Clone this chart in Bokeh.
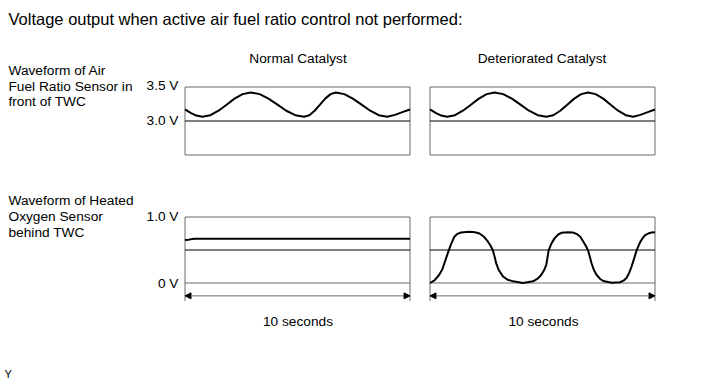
from bokeh.plotting import figure
from bokeh.models import Range1d, Arrow, NormalHead
from bokeh.core.properties import value
from bokeh.embed import file_html
from bokeh.resources import INLINE

# ---------------- data ----------------
title_text = "Voltage output when active air fuel ratio control not performed:"
column_titles = ["Normal Catalyst", "Deteriorated Catalyst"]
row_labels_af = ["Waveform of Air", "Fuel Ratio Sensor in", "front of TWC"]
row_labels_o2 = ["Waveform of Heated", "Oxygen Sensor", "behind TWC"]
af_tick_labels = ["3.5 V", "3.0 V"]
af_tick_values = [3.5, 3.0]
o2_tick_labels = ["1.0 V", "0 V"]
o2_tick_values = [1.0, 0.0]
time_label = "10 seconds"
time_span = [0, 10]          # seconds
af_span = [2.5, 3.5]         # volts
o2_ref = 0.5                 # volts
af_ref = 3.0                 # volts

# Air fuel ratio sensor, normal catalyst
t_af_normal = [0, 0.25, 0.5, 0.77, 1.13, 1.49, 1.85, 2.2, 2.56, 2.92, 3.32, 3.71, 4.11, 4.5,
               4.9, 5.29, 5.53, 5.76, 6.0, 6.23, 6.47, 6.7, 7.08, 7.46, 7.85, 8.23, 8.61,
               8.99, 9.33, 9.66, 10]
v_af_normal = [3.17, 3.12, 3.08, 3.063, 3.085, 3.151, 3.24, 3.329, 3.395, 3.42, 3.395, 3.329,
               3.24, 3.151, 3.085, 3.063, 3.085, 3.151, 3.24, 3.329, 3.395, 3.42, 3.395,
               3.329, 3.24, 3.151, 3.085, 3.063, 3.09, 3.13, 3.17]

# Air fuel ratio sensor, deteriorated catalyst
t_af_det = [0, 0.25, 0.5, 0.76, 1.11, 1.46, 1.82, 2.17, 2.52, 2.87, 3.25, 3.64, 4.02, 4.4,
            4.79, 5.17, 5.48, 5.79, 6.1, 6.41, 6.72, 7.03, 7.36, 7.7, 8.03, 8.36, 8.7,
            9.03, 9.35, 9.68, 10]
v_af_det = [3.17, 3.12, 3.08, 3.063, 3.085, 3.151, 3.24, 3.329, 3.395, 3.42, 3.395, 3.329,
            3.24, 3.151, 3.085, 3.063, 3.085, 3.151, 3.24, 3.329, 3.395, 3.42, 3.395,
            3.329, 3.24, 3.151, 3.085, 3.063, 3.09, 3.13, 3.17]

# Heated oxygen sensor, normal catalyst
t_o2_normal = [0, 0.15, 0.3, 0.45, 10]
v_o2_normal = [0.65, 0.655, 0.665, 0.67, 0.67]

# Heated oxygen sensor, deteriorated catalyst
t_o2_det = [0, 0.2, 0.41, 0.55, 0.64, 0.74, 0.83, 0.95, 1.08, 1.22, 1.38, 1.75, 2.0, 2.2,
            2.4, 2.57, 2.7, 2.8, 2.87, 2.94, 3.05, 3.24, 3.45, 3.69, 4.13, 4.58, 4.8, 4.95,
            5.08, 5.17, 5.22, 5.27, 5.4, 5.54, 5.7, 5.84, 6.14, 6.35, 6.51, 6.68, 6.81,
            6.93, 7.03, 7.1, 7.18, 7.28, 7.4, 7.55, 7.7, 8.07, 8.44, 8.6, 8.74, 8.86, 8.96,
            9.07, 9.18, 9.3, 9.41, 9.55, 9.7, 9.85, 10]
v_o2_det = [0.0, 0.04, 0.125, 0.21, 0.30, 0.40, 0.49, 0.60, 0.70, 0.745, 0.765, 0.775, 0.77,
            0.75, 0.70, 0.63, 0.56, 0.49, 0.40, 0.30, 0.20, 0.10, 0.05, 0.025, 0.0, 0.025,
            0.07, 0.125, 0.20, 0.28, 0.38, 0.49, 0.60, 0.68, 0.735, 0.76, 0.77, 0.765,
            0.745, 0.70, 0.63, 0.56, 0.49, 0.40, 0.30, 0.20, 0.125, 0.065, 0.03, 0.005,
            0.012, 0.035, 0.08, 0.16, 0.25, 0.37, 0.49, 0.59, 0.66, 0.72, 0.75, 0.765, 0.77]

# ---------------- layout (page pixels) ----------------
W, H = 710, 380
X0, Y0 = 0, 0                       # Bokeh's page template has no body margin
PX_L = (184.5, 409.5)               # left column, t=0 / t=10
PX_R = (429.5, 654.5)               # right column
PY_AF = (86.5, 120.5)               # 3.5 V / 3.0 V
PY_O2 = (216.5, 282.5)              # 1.0 V / 0 V
FONT = value("Liberation Sans")


def mapped_range(v0, p0, v1, p1, lo, hi):
    k = (v1 - v0) / (p1 - p0)
    return Range1d(start=v0 + (lo - p0) * k, end=v0 + (hi - p0) * k)


p = figure(width=W, height=H, x_range=Range1d(X0, X0 + W), y_range=Range1d(Y0 + H, Y0),
           min_border=0, toolbar_location=None, output_backend="svg",
           x_axis_location=None, y_axis_location=None, background_fill_color="white",
           border_fill_color="white")
p.grid.visible = False
p.outline_line_color = None

p.extra_x_ranges = {
    "xl": mapped_range(0, PX_L[0], 10, PX_L[1], X0, X0 + W),
    "xr": mapped_range(0, PX_R[0], 10, PX_R[1], X0, X0 + W),
}
p.extra_y_ranges = {
    "yt": mapped_range(3.5, PY_AF[0], 3.0, PY_AF[1], Y0 + H, Y0),
    "yb": mapped_range(1.0, PY_O2[0], 0.0, PY_O2[1], Y0 + H, Y0),
}

GREY = "#6b6b6b"
SIDE_LOW = -0.27     # verticals below 0 V
ARROW_V = -0.195

for xr, t_af, v_af, t_o2, v_o2 in (("xl", t_af_normal, v_af_normal, t_o2_normal, v_o2_normal),
                                   ("xr", t_af_det, v_af_det, t_o2_det, v_o2_det)):
    # AF panel frame
    p.quad(left=[time_span[0]], right=[time_span[1]], bottom=[af_span[0]], top=[af_span[1]],
           fill_color=None, line_color=GREY, line_width=1,
           x_range_name=xr, y_range_name="yt")
    p.segment(x0=[time_span[0]], x1=[time_span[1]], y0=[af_ref], y1=[af_ref],
              line_color="black", line_width=1, x_range_name=xr, y_range_name="yt")
    p.line(t_af, v_af, line_color="black", line_width=2, line_join="round",
           x_range_name=xr, y_range_name="yt")

    # O2 panel frame
    p.segment(x0=[time_span[0], time_span[0], time_span[1], time_span[0]],
              x1=[time_span[1], time_span[0], time_span[1], time_span[1]],
              y0=[o2_tick_values[0], o2_tick_values[0], o2_tick_values[0], o2_tick_values[1]],
              y1=[o2_tick_values[0], SIDE_LOW, SIDE_LOW, o2_tick_values[1]],
              line_color=GREY, line_width=1, x_range_name=xr, y_range_name="yb")
    p.segment(x0=[time_span[0]], x1=[time_span[1]], y0=[o2_ref], y1=[o2_ref],
              line_color="black", line_width=1, x_range_name=xr, y_range_name="yb")
    p.line(t_o2, v_o2, line_color="black", line_width=2, line_join="round",
           x_range_name=xr, y_range_name="yb")

    p.add_layout(Arrow(start=NormalHead(size=6, fill_color="black", line_color="black"),
                       end=NormalHead(size=6, fill_color="black", line_color="black"),
                       x_start=time_span[0], x_end=time_span[1],
                       y_start=ARROW_V, y_end=ARROW_V, line_color=GREY, line_width=1,
                       x_range_name=xr, y_range_name="yb"))

# ---------------- texts ----------------
p.text(x=[8], y=[18.5], text=[title_text], text_font=FONT, text_font_size="16.5px",
       text_color="black", text_align="left", text_baseline="middle")

p.text(x=[297.5, 541.5], y=[57.5, 57.5], text=column_titles, text_font=FONT,
       text_font_size="13.7px", text_color="black", text_align="center",
       text_baseline="middle")

p.text(x=[8] * 3, y=[70, 85.5, 101], text=row_labels_af, text_font=FONT,
       text_font_size="13.7px", text_color="black", text_align="left", text_baseline="middle")
p.text(x=[8] * 3, y=[200, 216, 232], text=row_labels_o2, text_font=FONT,
       text_font_size="13.7px", text_color="black", text_align="left", text_baseline="middle")

p.text(x=[178] * 2, y=[85, 120], text=af_tick_labels, text_font=FONT,
       text_font_size="13.7px", text_color="black", text_align="right", text_baseline="middle")
p.text(x=[178] * 2, y=[216, 283], text=o2_tick_labels, text_font=FONT,
       text_font_size="13.7px", text_color="black", text_align="right", text_baseline="middle")

p.text(x=[297.5, 543], y=[321, 321], text=[time_label, time_label], text_font=FONT,
       text_font_size="13.7px", text_color="black", text_align="center",
       text_baseline="middle")

p.text(x=[4], y=[373], text=["Y"], text_font=FONT, text_font_size="11px",
       text_color="black", text_align="left", text_baseline="middle")

open("out.html", "w").write(file_html(p, INLINE))
